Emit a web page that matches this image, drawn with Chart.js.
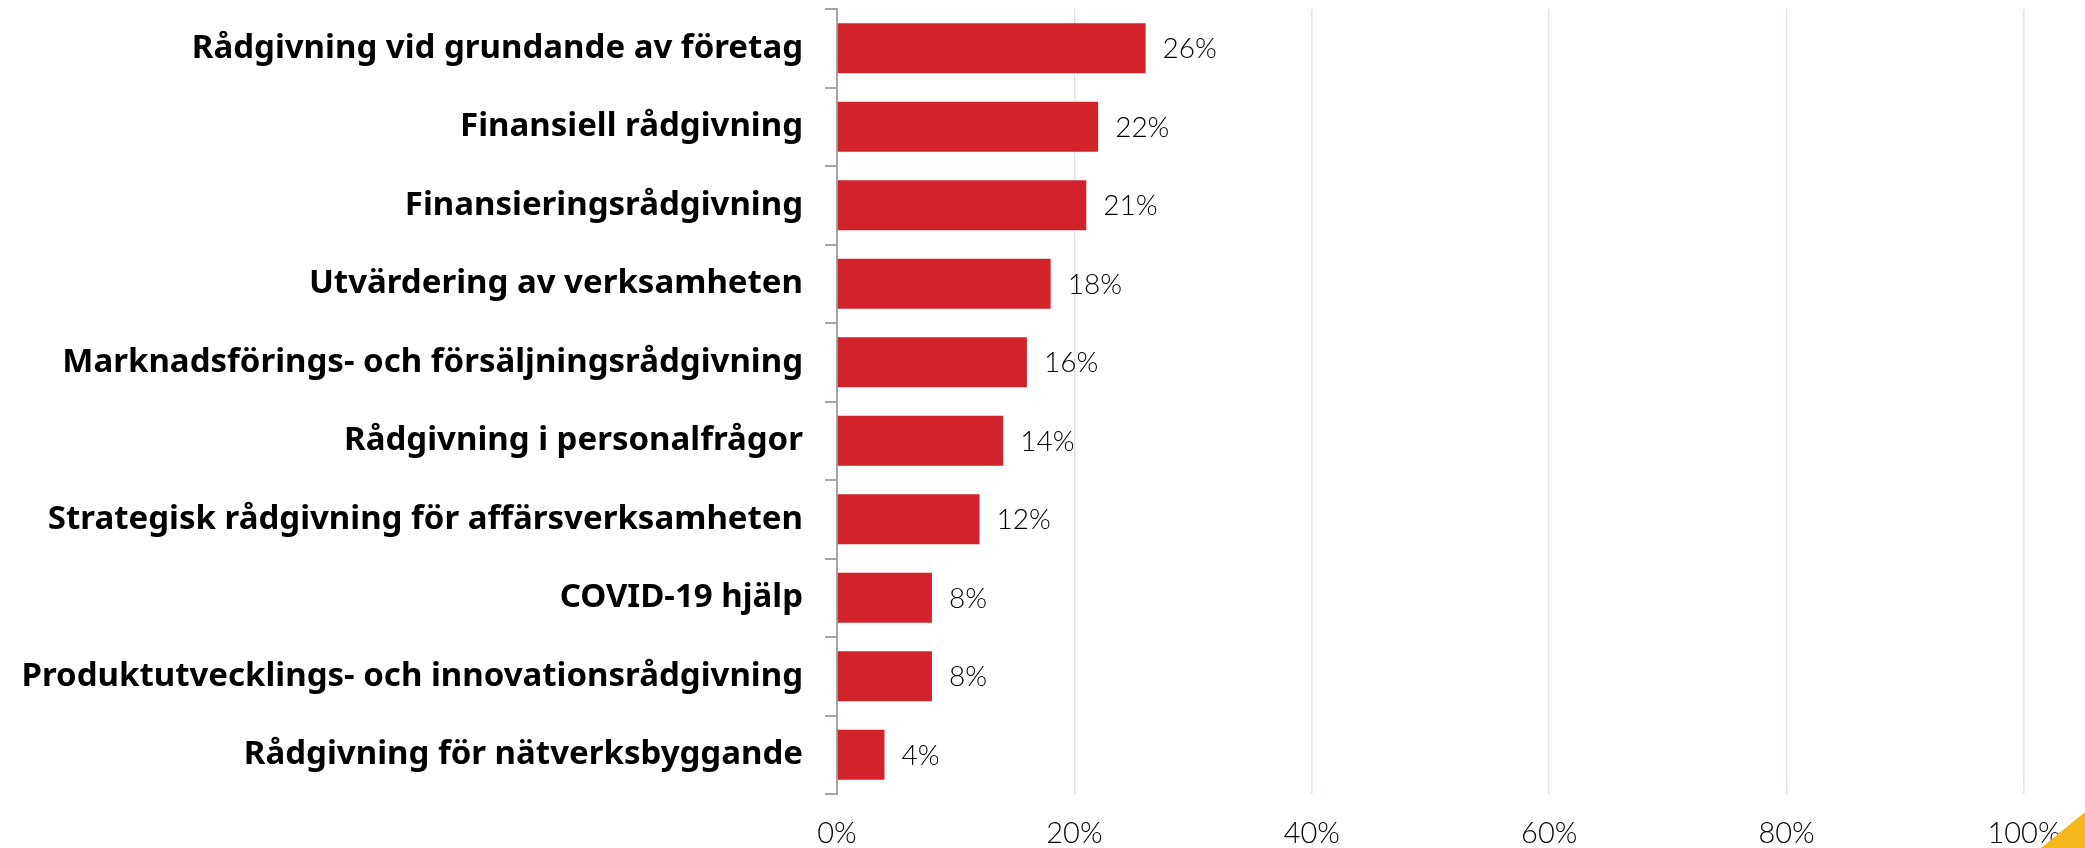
<!DOCTYPE html>
<html>
<head>
<meta charset="utf-8">
<script src="https://cdn.jsdelivr.net/npm/chart.js@4.4.1/dist/chart.umd.min.js"></script>
<style>
  html, body { margin: 0; padding: 0; background: #fff; }
  #wrap { position: relative; width: 2085px; height: 848px; overflow: hidden; }
  #corner {
    position: absolute; right: 0; bottom: 0; width: 44px; height: 36px;
    background: #f5b81c; clip-path: polygon(100% 0, 100% 100%, 0 100%);
  }
</style>
</head>
<body>
<div id="wrap">
  <canvas id="chart-one"></canvas>
  <div id="corner"></div>
</div>
<script>
// data
var labels = [
  "Rådgivning vid grundande av företag",
  "Finansiell rådgivning",
  "Finansieringsrådgivning",
  "Utvärdering av verksamheten",
  "Marknadsförings- och försäljningsrådgivning",
  "Rådgivning i personalfrågor",
  "Strategisk rådgivning för affärsverksamheten",
  "COVID-19 hjälp",
  "Produktutvecklings- och innovationsrådgivning",
  "Rådgivning för nätverksbyggande"
];
var values = [26, 22, 21, 18, 16, 14, 12, 8, 8, 4];
var xTicks = [0, 20, 40, 60, 80, 100];

// value labels next to the bars
var valueLabels = {
  id: "valueLabels",
  afterDatasetsDraw: function (chart) {
    var ctx = chart.ctx;
    var meta = chart.getDatasetMeta(0);
    ctx.save();
    ctx.font = "300 28px Lato, 'Open Sans', sans-serif";
    ctx.fillStyle = "#000";
    ctx.textAlign = "left";
    ctx.textBaseline = "middle";
    meta.data.forEach(function (bar, i) {
      ctx.fillText(values[i] + "%", bar.x + 17, bar.y + 1);
    });
    ctx.restore();
  }
};

new Chart("chart-one", {
  type: "bar",
  data: {
    labels: labels,
    datasets: [{
      data: values,
      backgroundColor: "#d2232b",
      barPercentage: 0.64,
      categoryPercentage: 1
    }]
  },
  options: {
    indexAxis: "y",
    responsive: true,
    maintainAspectRatio: false,
    animation: false,
    devicePixelRatio: 1,
    layout: { padding: { top: 9, right: 61, left: 0, bottom: 0 } },
    plugins: {
      legend: { display: false },
      tooltip: { enabled: false }
    },
    scales: {
      x: {
        min: 0,
        max: 100,
        afterBuildTicks: function (s) {
          s.ticks = xTicks.map(function (v) { return { value: v }; });
        },
        afterFit: function (s) { s.height = 54; },
        border: { display: false },
        grid: {
          color: function (c) { return c.tick && c.tick.value === 0 ? "rgba(0,0,0,0)" : "#dce5f1"; },
          lineWidth: 1.5,
          drawTicks: false
        },
        ticks: {
          padding: 22,
          color: "#000",
          font: { family: "Lato, 'Open Sans', sans-serif", size: 29, weight: "300" },
          callback: function (v) { return v + "%"; }
        }
      },
      y: {
        afterFit: function (s) {
          s.width = 837;
          s.paddingTop = 0;
          s.paddingBottom = 0;
        },
        border: { color: "#a6a6a6", width: 2 },
        grid: {
          drawOnChartArea: false,
          color: "#a6a6a6",
          lineWidth: 2,
          tickLength: 12
        },
        ticks: {
          padding: 22,
          color: "#000",
          font: { family: "'Noto Sans', 'DejaVu Sans', sans-serif", size: 33, weight: "bold" }
        }
      }
    }
  },
  plugins: [valueLabels]
});
</script>
</body>
</html>
